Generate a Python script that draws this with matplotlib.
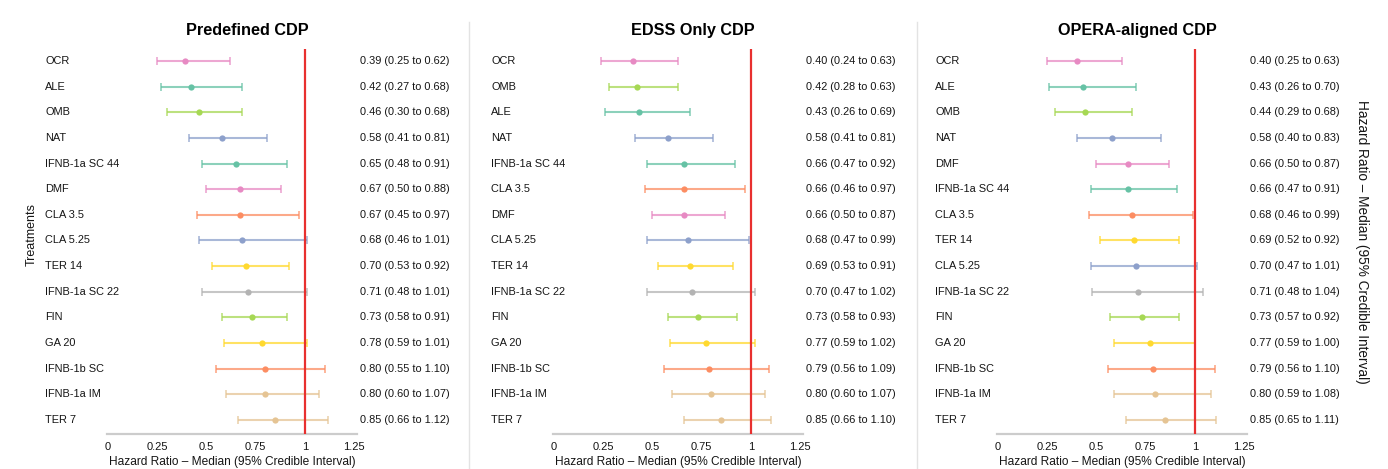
import matplotlib
matplotlib.use("Agg")
import matplotlib.pyplot as plt
from matplotlib.lines import Line2D
from matplotlib.transforms import blended_transform_factory
import numpy as np

plt.rcParams['font.family'] = ['Liberation Sans', 'DejaVu Sans']

# data: (treatment, median, lower, upper)
predefined_names = ["OCR", "ALE", "OMB", "NAT", "IFNB-1a SC 44", "DMF", "CLA 3.5",
                    "CLA 5.25", "TER 14", "IFNB-1a SC 22", "FIN", "GA 20",
                    "IFNB-1b SC", "IFNB-1a IM", "TER 7"]
predefined_med = [0.39, 0.42, 0.46, 0.58, 0.65, 0.67, 0.67, 0.68, 0.70, 0.71, 0.73, 0.78, 0.80, 0.80, 0.85]
predefined_lo = [0.25, 0.27, 0.30, 0.41, 0.48, 0.50, 0.45, 0.46, 0.53, 0.48, 0.58, 0.59, 0.55, 0.60, 0.66]
predefined_hi = [0.62, 0.68, 0.68, 0.81, 0.91, 0.88, 0.97, 1.01, 0.92, 1.01, 0.91, 1.01, 1.10, 1.07, 1.12]

edss_names = ["OCR", "OMB", "ALE", "NAT", "IFNB-1a SC 44", "CLA 3.5", "DMF",
              "CLA 5.25", "TER 14", "IFNB-1a SC 22", "FIN", "GA 20",
              "IFNB-1b SC", "IFNB-1a IM", "TER 7"]
edss_med = [0.40, 0.42, 0.43, 0.58, 0.66, 0.66, 0.66, 0.68, 0.69, 0.70, 0.73, 0.77, 0.79, 0.80, 0.85]
edss_lo = [0.24, 0.28, 0.26, 0.41, 0.47, 0.46, 0.50, 0.47, 0.53, 0.47, 0.58, 0.59, 0.56, 0.60, 0.66]
edss_hi = [0.63, 0.63, 0.69, 0.81, 0.92, 0.97, 0.87, 0.99, 0.91, 1.02, 0.93, 1.02, 1.09, 1.07, 1.10]

opera_names = ["OCR", "ALE", "OMB", "NAT", "DMF", "IFNB-1a SC 44", "CLA 3.5",
               "TER 14", "CLA 5.25", "IFNB-1a SC 22", "FIN", "GA 20",
               "IFNB-1b SC", "IFNB-1a IM", "TER 7"]
opera_med = [0.40, 0.43, 0.44, 0.58, 0.66, 0.66, 0.68, 0.69, 0.70, 0.71, 0.73, 0.77, 0.79, 0.80, 0.85]
opera_lo = [0.25, 0.26, 0.29, 0.40, 0.50, 0.47, 0.46, 0.52, 0.47, 0.48, 0.57, 0.59, 0.56, 0.59, 0.65]
opera_hi = [0.63, 0.70, 0.68, 0.83, 0.87, 0.91, 0.99, 0.92, 1.01, 1.04, 0.92, 1.00, 1.10, 1.08, 1.11]

panel_titles = ["Predefined CDP", "EDSS Only CDP", "OPERA-aligned CDP"]
xticks = [0, 0.25, 0.5, 0.75, 1, 1.25]
xtick_labels = ["0", "0.25", "0.5", "0.75", "1", "1.25"]

# Set2 colours assigned by alphabetical treatment order
set2 = ["#66c2a5", "#fc8d62", "#8da0cb", "#e78ac3", "#a6d854", "#ffd92f", "#e5c494", "#b3b3b3"]
colors = {n: set2[i % 8] for i, n in enumerate(sorted(predefined_names))}

panels = [
    (predefined_names, predefined_med, predefined_lo, predefined_hi),
    (edss_names, edss_med, edss_lo, edss_hi),
    (opera_names, opera_med, opera_lo, opera_hi),
]

W, H = 1388, 469
fig = plt.figure(figsize=(W / 100, H / 100), dpi=100)

lefts = [107, 553, 997]
ax_w, ax_top, ax_bot = 250, 49, 434

for k, (names, med, lo, hi) in enumerate(panels):
    ax = fig.add_axes([lefts[k] / W, (H - ax_bot) / H, ax_w / W, (ax_bot - ax_top) / H])
    y = np.arange(len(names))
    for i, n in enumerate(names):
        c = colors[n]
        ax.errorbar(med[i], y[i], xerr=[[med[i] - lo[i]], [hi[i] - med[i]]],
                    fmt='none', ecolor=c, elinewidth=1.5, capsize=3, capthick=1.2, alpha=0.75)
        ax.plot(med[i], y[i], 'o', color=c, ms=4.5, mec='none')
        ax.text(-0.248, y[i], n, transform=ax.get_yaxis_transform(),
                ha='left', va='center', fontsize=7.9, color='#151515')
        ax.text(1.01, y[i], f"{med[i]:.2f} ({lo[i]:.2f} to {hi[i]:.2f})",
                transform=ax.get_yaxis_transform(),
                ha='left', va='center', fontsize=7.9, color='#151515')
    ax.axvline(1, color='#e8302f', lw=1.6, zorder=5)
    ax.set_xlim(-0.005, 1.265)
    ax.set_ylim(14.55, -0.47)
    ax.set_xticks(xticks)
    ax.set_xticklabels(xtick_labels, fontsize=8, color='#151515')
    ax.set_yticks([])
    ax.tick_params(axis='x', length=0, pad=5.5)
    for s in ['top', 'right', 'left']:
        ax.spines[s].set_visible(False)
    ax.spines['bottom'].set_color('#cccccc')
    ax.spines['bottom'].set_linewidth(1.6)
    ax.text(0.56, 1.049, panel_titles[k], transform=ax.transAxes,
            ha='center', va='center', fontsize=11.7, fontweight='bold')
    # x label sits right at the bottom edge of the figure
    ax.text(0.5, 1.5 / H, "Hazard Ratio – Median (95% Credible Interval)",
            transform=blended_transform_factory(ax.transAxes, fig.transFigure),
            ha='center', va='bottom', fontsize=8.6, color='#151515')

# panel separators
for xs in [469, 917]:
    fig.add_artist(Line2D([xs / W, xs / W], [0, 1 - 22 / H], transform=fig.transFigure,
                          color='#e3e3e3', lw=1))

fig.text(32 / W, 1 - 235 / H, "Treatments", rotation=90, ha='center', va='center',
         fontsize=9, color='#151515')
fig.text(1362 / W, 1 - 242 / H, "Hazard Ratio – Median (95% Credible Interval)",
         rotation=270, ha='center', va='center', fontsize=9.8, color='#151515')

fig.savefig("out.png", dpi=100)
